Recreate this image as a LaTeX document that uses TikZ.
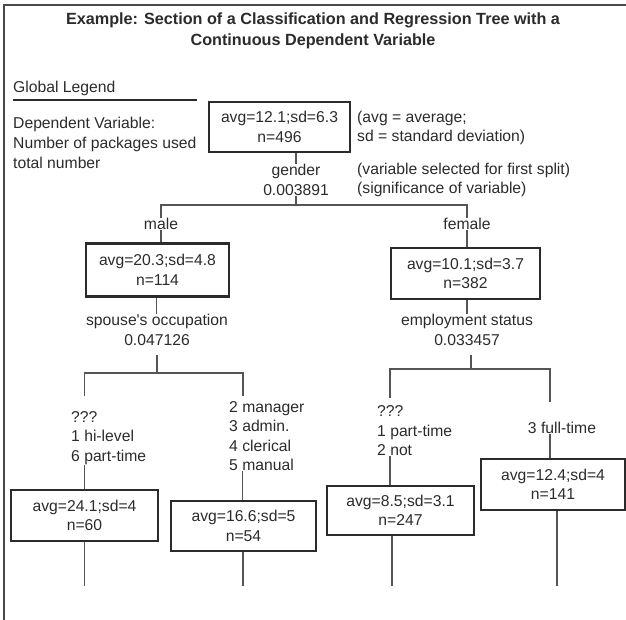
\documentclass[tikz,border=0pt]{standalone}
\usepackage{fontspec}
\setmainfont{Liberation Sans}
\definecolor{ink}{HTML}{2B2B2B}
\definecolor{wire}{HTML}{555555}
\definecolor{framec}{HTML}{4A4A4A}
\begin{document}
\begin{tikzpicture}[x=1pt,y=-1pt,
  txt/.style={font=\fontsize{15.7}{19.5}\selectfont, text=ink, inner sep=0pt, align=center},
  ltxt/.style={txt, align=left},
  nodebox/.style={txt, draw=ink, line width=2.2pt},
  wireline/.style={draw=wire, line width=1.4pt},
]
\useasboundingbox (0,0) rectangle (626,620);
% frame
\draw[framec, line width=2.5pt] (4,620) -- (4,5) -- (626,5);

% title
\node[txt, font=\bfseries\fontsize{16.2}{20.5}\selectfont] (title) at (313,31) {Example: Section of a Classification and Regression Tree with a\\Continuous Dependent Variable};

% global legend
\node[ltxt, anchor=west] (glob) at (13,88) {Global Legend};
\draw[draw=ink, line width=1.2pt] (13,100) -- (197,100);
\node[ltxt, anchor=west, font=\fontsize{15.7}{20}\selectfont] (dep) at (13,143) {Dependent Variable:\\Number of packages used\\total number};

% root
\node[nodebox, minimum width=141pt, minimum height=50pt] (root) at (279.5,127) {avg=12.1;sd=6.3\\n=496};
\node[ltxt, anchor=west] (rootnote) at (357,128) {(avg = average;\\sd = standard deviation)};
\node[txt] (gsplit) at (296,180) {gender\\0.003891};
\node[ltxt, anchor=west] (gnote) at (357,180) {(variable selected for first split)\\(significance of variable)};
\coordinate (gb) at (296,205);

% level 1
\node[txt] (male) at (161,224) {male};
\node[txt] (female) at (467,224) {female};
\node[nodebox, minimum width=143pt, minimum height=53pt] (mbox) at (157.5,270) {avg=20.3;sd=4.8\\n=114};
\node[nodebox, minimum width=149pt, minimum height=51pt] (fbox) at (465.5,273.5) {avg=10.1;sd=3.7\\n=382};
\node[txt] (msplit) at (157,330) {spouse\textquotesingle s occupation\\0.047126};
\node[txt] (fsplit) at (467,330) {employment status\\0.033457};

% level 2 labels
\node[ltxt, anchor=west] (mll) at (71,438) {???\\1 hi-level\\6 part-time};
\node[ltxt, anchor=west] (mlr) at (229,436) {2 manager\\3 admin.\\4 clerical\\5 manual};
\node[ltxt, anchor=west] (fll) at (377,431) {???\\1 part-time\\2 not};
\node[txt] (frr) at (562,428) {3 full-time};

% level 2 boxes
\node[nodebox, minimum width=147pt, minimum height=51pt] (llbox) at (84.5,515.5) {avg=24.1;sd=4\\n=60};
\node[nodebox, minimum width=145pt, minimum height=50pt] (lrbox) at (243.5,526) {avg=16.6;sd=5\\n=54};
\node[nodebox, minimum width=147pt, minimum height=49pt] (rlbox) at (400.5,510.5) {avg=8.5;sd=3.1\\n=247};
\node[nodebox, minimum width=144pt, minimum height=51pt] (rrbox) at (553,484.5) {avg=12.4;sd=4\\n=141};

% bus coordinates
\coordinate (mb) at (157,373);
\coordinate (fb) at (471,369);
\coordinate (lla) at (84.5,396);
\coordinate (lra) at (243,396);
\coordinate (rla) at (390,398);
\coordinate (rra) at (550,402);
\coordinate (lle) at (84.5,586);
\coordinate (lre) at (243,586);
\coordinate (rle) at (392,586);
\coordinate (rre) at (557,586);

% connectors
\draw[wireline] (root.south -| gsplit.north) -- (gsplit.north);
\draw[wireline] (gsplit.south) -- (gb);
\draw[wireline] (male.north) |- (gb) -| (female.north);
\draw[wireline] (male.south) -- (male.south |- mbox.north);
\draw[wireline] (female.south) -- (female.south |- fbox.north);
\draw[wireline] ([xshift=-1pt]mbox.south) -- ([xshift=-1pt]mbox.south |- msplit.north);
\draw[wireline] (fbox.south -| fsplit.north) -- (fsplit.north);

\draw[wireline, shorten <=9pt] (msplit.south) -- (mb);
\draw[wireline] (lla) |- (mb) -| (lra);
\draw[wireline, shorten <=9pt] (fsplit.south -| fb) -- (fb);
\draw[wireline] (rla) |- (fb) -| (rra);

\draw[wireline] (llbox.north) -- (llbox.north |- mll.south);
\draw[wireline] ([xshift=-1pt]lrbox.north) -- ([xshift=-1pt]lrbox.north |- mlr.south);
\draw[wireline] (rla |- rlbox.north) -- (rla |- fll.south);
\draw[wireline] (rra |- rrbox.north) -- (rra |- frr.south);

\draw[wireline] (llbox.south) -- (lle);
\draw[wireline] (lre |- lrbox.south) -- (lre);
\draw[wireline] (rle |- rlbox.south) -- (rle);
\draw[wireline] (rre |- rrbox.south) -- (rre);
\end{tikzpicture}
\end{document}
